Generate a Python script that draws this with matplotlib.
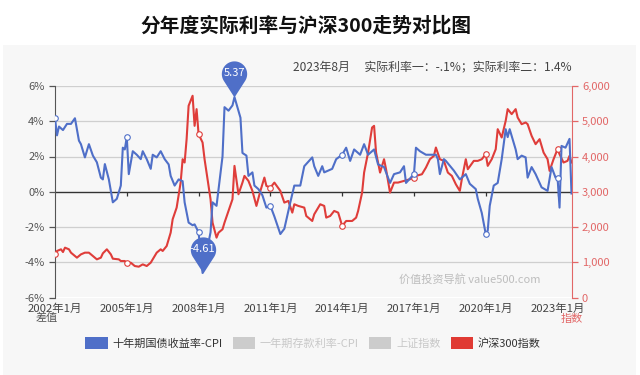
import numpy as np
import matplotlib
matplotlib.use('Agg')
import matplotlib.pyplot as plt
from matplotlib.path import Path
from matplotlib.patches import Patch, Rectangle

plt.rcParams['font.family'] = ['Noto Sans CJK SC', 'DejaVu Sans']

# 月份序号: 0 = 2002年1月, 259 = 2023年8月
blue_m = [0, 1, 2, 4, 6, 8, 10, 12, 13, 15, 17, 19, 21, 23, 24, 25, 27, 29, 31, 33,
          34, 35, 36, 37, 39, 41, 43, 44, 46, 48, 49, 51, 53, 55, 57, 58, 60, 62, 64, 65,
          67, 69, 70, 72, 74, 75, 78, 79, 81, 83, 84, 85, 87, 89, 90, 93, 94, 96, 97, 99,
          100, 102, 104, 106, 108, 110, 113, 115, 118, 120, 123, 125, 129, 130, 132, 134, 135, 139, 141, 144,
          146, 148, 150, 153, 155, 157, 160, 162, 165, 168, 170, 173, 175, 176, 180, 181, 183, 186, 188, 191,
          192, 193, 195, 196, 200, 203, 206, 208, 211, 212, 214, 216, 217, 218, 220, 222, 224, 226, 227, 228,
          231, 232, 234, 236, 237, 239, 241, 244, 247, 249, 251, 252, 253, 254, 256, 258, 259]
blue_v = [4.17, 3.2, 3.7, 3.5, 3.85, 3.85, 4.17, 2.9, 2.7, 1.95, 2.7, 2.05, 1.67, 0.8, 0.7, 1.57, 0.7, -0.6, -0.4, 0.35,
          2.5, 2.4, 3.1, 1.0, 2.3, 2.1, 1.85, 2.3, 1.85, 1.3, 2.1, 1.95, 2.3, 1.85, 1.55, 0.9, 0.35, 0.7, 0.6, -0.6,
          -1.75, -1.9, -1.85, -2.3, -4.61, -4.0, -2.3, -0.6, -0.8, 1.1, 2.0, 4.8, 4.6, 4.9, 5.37, 4.2, 2.2, 2.05, 0.9, 1.1,
          0.35, 0.15, -0.2, -0.9, -0.8, -1.4, -2.4, -2.1, -0.6, 0.35, 0.35, 1.45, 1.95, 1.45, 0.9, 1.45, 1.1, 1.3, 1.85, 2.1,
          2.5, 1.75, 2.4, 2.1, 2.7, 2.1, 2.4, 1.55, 1.4, 0.5, 1.0, 1.1, 1.45, 0.5, 1.0, 2.5, 2.3, 2.1, 2.1, 2.1,
          1.85, 1.0, 1.85, 1.75, 1.2, 0.7, 1.0, 0.45, 0.15, -0.4, -1.2, -2.4, -2.2, -0.8, 0.35, 0.5, 1.85, 3.55, 3.1, 3.55,
          2.4, 1.85, 2.05, 1.95, 0.8, 1.4, 1.0, 0.25, 0.05, 1.4, 0.8, 0.8, -0.9, 2.6, 2.5, 3.0, -0.1]

red_m = [0, 1, 3, 4, 5, 7, 8, 11, 13, 15, 17, 19, 21, 23, 24, 26, 28, 29, 32, 33,
         35, 36, 38, 40, 42, 44, 46, 48, 49, 51, 53, 54, 56, 58, 59, 61, 63, 64, 65, 66,
         67, 69, 70, 71, 72, 74, 75, 76, 78, 79, 81, 82, 84, 85, 87, 89, 90, 92, 94, 95,
         97, 99, 101, 103, 105, 106, 108, 110, 113, 115, 117, 119, 120, 122, 125, 126, 129, 130, 133, 135,
         136, 138, 140, 142, 144, 146, 149, 151, 152, 154, 155, 157, 159, 160, 161, 163, 165, 166, 168, 170,
         172, 175, 178, 180, 181, 184, 186, 188, 190, 191, 193, 195, 197, 199, 201, 203, 204, 206, 207, 210,
         212, 214, 216, 217, 219, 221, 222, 224, 226, 227, 229, 231, 232, 234, 236, 237, 239, 241, 243, 245,
         247, 248, 250, 252, 253, 255, 257, 258, 259]
red_v = [1243, 1320, 1367, 1290, 1414, 1367, 1272, 1130, 1224, 1272, 1272, 1177, 1082, 1130, 1253, 1367, 1224, 1101, 1082, 1035,
         1035, 969, 988, 893, 874, 940, 893, 988, 1082, 1272, 1367, 1320, 1461, 1840, 2219, 2550, 3260, 3923, 3829, 4492,
         5439, 5723, 4870, 5344, 4634, 4397, 3923, 3544, 2787, 2124, 1698, 1840, 1935, 2124, 2456, 2787, 3734, 2929, 3260, 3450,
         3308, 3024, 2598, 3024, 3402, 3166, 3118, 3260, 3024, 2692, 2740, 2408, 2645, 2598, 2550, 2313, 2171, 2361, 2645, 2598,
         2266, 2313, 2456, 2408, 2030, 2171, 2171, 2266, 2456, 2976, 3544, 4112, 4822, 4870, 4112, 3544, 3923, 3639, 2976, 3260,
         3260, 3308, 3355, 3402, 3450, 3497, 3686, 3923, 4018, 4255, 3923, 3876, 3544, 3450, 3213, 3024, 3355, 3923, 3639, 3876,
         3876, 3923, 4065, 3734, 3923, 4207, 4775, 4539, 5012, 5344, 5202, 5344, 5107, 4917, 4965, 4917, 4586, 4350, 4492, 4112,
         3923, 3592, 3923, 4207, 4065, 3829, 3876, 4018, 3829]

tick_m = [0, 36, 72, 108, 144, 180, 216, 252]
tick_lab = ['2002年1月', '2005年1月', '2008年1月', '2011年1月', '2014年1月', '2017年1月', '2020年1月', '2023年1月']
pct_ticks = [-6, -4, -2, 0, 2, 4, 6]
idx_ticks = [0, 1000, 2000, 3000, 4000, 5000, 6000]

legend_names = ['十年期国债收益率-CPI', '一年期存款利率-CPI', '上证指数', '沪深300指数']
note = '2023年8月　 实际利率一：-.1%；实际利率二：1.4%'

BLUE = '#4f6fc8'
RED = '#df3d3a'
RED_AX = '#e26767'

fig = plt.figure(figsize=(6.4, 3.75), dpi=100)
fig.patches.append(Rectangle((0.004, 0), 0.99, 1 - 45 / 375, transform=fig.transFigure,
                             facecolor='#f7f7f7', edgecolor='none', zorder=-10))
fig.text(0.478, 1 - 26 / 375, '分年度实际利率与沪深300走势对比图', ha='center', va='center',
         fontsize=14.2, fontweight='bold', color='#111')
fig.text(0.893, 1 - 67 / 375, note, ha='right', va='center', fontsize=8.6, color='#444')

ax = fig.add_axes([55 / 640, 1 - 297.5 / 375, 516.5 / 640, 211.5 / 375])
ax.set_facecolor('none')
ax2 = ax.twinx()

ax.set_xlim(0, 259)
ax.set_ylim(-6, 6)
ax2.set_ylim(0, 6000)

for v in pct_ticks:
    if v != 0:
        ax.axhline(v, color='#cfcfcf', lw=0.9, zorder=0)
ax.axhline(0, color='#333', lw=1.0, zorder=1)
ax.vlines(tick_m[1:], -0.22, 0, color='#333', lw=0.9, zorder=1)

ax.set_yticks(pct_ticks)
ax.set_yticklabels([f'{v}%' for v in pct_ticks])
ax.tick_params(axis='y', colors='#555', labelsize=8, length=4, width=0.9)
ax.set_xticks([])
for s in ['top', 'right', 'bottom']:
    ax.spines[s].set_visible(False)
ax.spines['left'].set_color('#555')

sec = ax.secondary_xaxis(0)
sec.set_xticks(tick_m)
sec.set_xticklabels(tick_lab)
sec.tick_params(length=0, pad=4, labelsize=8.2, colors='#444')
sec.spines['bottom'].set_visible(False)

ax2.set_yticks(idx_ticks)
ax2.set_yticklabels([f'{v:,}' for v in idx_ticks])
ax2.tick_params(axis='y', colors=RED_AX, labelsize=8, length=4, width=0.9)
for s in ['top', 'left', 'bottom']:
    ax2.spines[s].set_visible(False)
ax2.spines['right'].set_color(RED_AX)

bm = np.array(blue_m)
bv = np.array(blue_v)
rm = np.array(red_m)
rv = np.array(red_v)

ax2.plot(rm, rv, color=RED, lw=1.5, zorder=3)
sel = np.isin(rm, tick_m)
ax2.plot(rm[sel], rv[sel], 'o', ms=4, mfc='white', mec=RED, mew=0.8, zorder=4)
ax2.plot(bm, bv * 500 + 3000, color=BLUE, lw=1.5, zorder=5)
sel = np.isin(bm, tick_m)
ax2.plot(bm[sel], bv[sel] * 500 + 3000, 'o', ms=4, mfc='white', mec=BLUE, mew=0.8, zorder=6)

# 标注气泡 (最大值 / 最小值)
c = 1.85
a = np.arccos(1 / c)
th = np.linspace(-np.pi / 2 + a, 3 * np.pi / 2 - a, 40)
verts = [(0, 0)] + [(np.cos(t), c + np.sin(t)) for t in th] + [(0, 0)]
pin = Path(verts, [Path.MOVETO] + [Path.LINETO] * (len(verts) - 2) + [Path.CLOSEPOLY])
for i in [int(np.argmax(bv)), int(np.argmin(bv))]:
    ax2.plot(bm[i], bv[i] * 500 + 3000, marker=pin, ms=52, color=BLUE, mew=0, zorder=8,
             clip_on=False)
    ax2.annotate(f'{bv[i]:.2f}', (bm[i], bv[i] * 500 + 3000), xytext=(0, 17.5),
                 textcoords='offset points', ha='center', va='center',
                 color='white', fontsize=8, zorder=9, annotation_clip=False)

fig.text(47 / 640, 1 - 318 / 375, '差值', ha='center', va='center', fontsize=8, color='#555')
fig.text(572 / 640, 1 - 319 / 375, '指数', ha='center', va='center', fontsize=8, color=RED_AX)
fig.text(470 / 640, 1 - 279 / 375, '价值投资导航 value500.com', ha='center', va='center',
         fontsize=8, color='#bdbdbd')

handles = [Patch(facecolor=BLUE), Patch(facecolor='#cccccc'),
           Patch(facecolor='#cccccc'), Patch(facecolor='#e03a33')]
leg = fig.legend(handles, legend_names, loc='center', bbox_to_anchor=(313 / 640, 1 - 343 / 375),
                 ncol=4, frameon=False, fontsize=8.0, handlelength=2.0, handleheight=1.2,
                 handletextpad=0.45, columnspacing=0.9)
for t, col in zip(leg.get_texts(), ['#333', '#c8c8c8', '#c8c8c8', '#333']):
    t.set_color(col)

fig.savefig('out.png', dpi=100)
